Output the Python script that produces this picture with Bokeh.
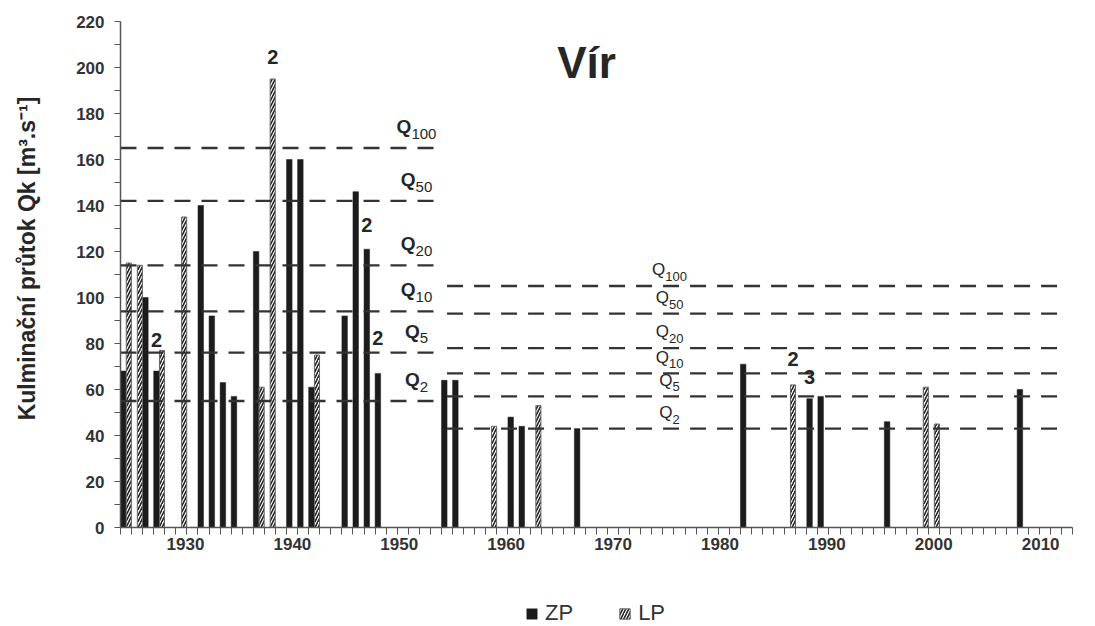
from bokeh.plotting import figure
from bokeh.layouts import column
from bokeh.models import (FixedTicker, Legend, LegendItem, Range1d, ColumnDataSource, Label, LinearAxis)
from bokeh.transform import dodge
from bokeh.core.properties import value
from bokeh.embed import file_html
from bokeh.resources import INLINE

# ---------------- data ----------------
zp_years = [1925, 1927, 1928, 1932, 1933, 1934, 1935, 1937, 1940, 1941, 1942, 1945, 1946, 1947, 1948,
            1954, 1955, 1960, 1961, 1966, 1981, 1987, 1988, 1994, 2006]
zp_values = [68, 100, 68, 140, 92, 63, 57, 120, 160, 160, 61, 92, 146, 121, 67,
             64, 64, 48, 44, 43, 71, 56, 57, 46, 60]
lp_years = [1925, 1926, 1928, 1930, 1937, 1938, 1942, 1958, 1962, 1985, 1997, 1998]
lp_values = [115, 114, 77, 135, 61, 195, 75, 44, 53, 62, 61, 45]

q_names = ["100", "50", "20", "10", "5", "2"]
q_before = [165, 142, 114, 94, 76, 55]     # period 1
q_after = [105, 93, 78, 67, 57, 43]        # period 2
period_start = [1924.5, 1954.0]
period_end = [1953.0, 2010.0]

ann_years = [1928, 1938, 1947, 1948, 1985, 1987]
ann_series = ["ZP", "LP", "ZP", "ZP", "LP", "ZP"]
ann_text = ["2", "2", "2", "2", "2", "3"]
ann_level = [78, 201, 128, 79, 70, 62]

x_labels = list(range(1930, 2011, 10))
first_year, last_year = 1925, 2010
# the printed year scale of the original is slightly compressed w.r.t. the bar slots
LABEL_AXIS_START, LABEL_AXIS_END = 1923.92, 2012.98

FONT = "Liberation Sans"
INK = "#262626"
BASE = 0.39   # drop of the alphabetic baseline below the anchor, in em

p = figure(width=1087, height=575, output_backend="svg", toolbar_location=None,
           x_range=Range1d(first_year - 0.5, last_year + 0.5), y_range=Range1d(0, 220),
           min_border_left=120, min_border_right=15, min_border_top=21, min_border_bottom=48)
p.extra_x_ranges = {"lab": Range1d(LABEL_AXIS_START, LABEL_AXIS_END)}
p.outline_line_color = None
p.grid.visible = False
p.background_fill_color = "white"

# bars
zp_src = ColumnDataSource(dict(year=zp_years, value=zp_values))
lp_src = ColumnDataSource(dict(year=lp_years, value=lp_values))
ZP_STYLE = dict(fill_color="#1c1c1c", line_color="#1c1c1c", line_width=0.5)
LP_STYLE = dict(fill_color="white", hatch_pattern="/", hatch_color="#222222", hatch_scale=6,
                hatch_weight=1.6, line_color="#666666", line_width=1)
p.vbar(x=dodge("year", -0.25), top="value", width=0.5, source=zp_src, **ZP_STYLE)
p.vbar(x=dodge("year", 0.25), top="value", width=0.46, source=lp_src, **LP_STYLE)

# dashed Q lines
seg = dict(x0=[], x1=[], y=[])
for i, qs in enumerate([q_before, q_after]):
    for q in qs:
        seg["x0"].append(period_start[i]); seg["x1"].append(period_end[i]); seg["y"].append(q)
p.segment(x0="x0", y0="y", x1="x1", y1="y", source=ColumnDataSource(seg),
          line_color="#333333", line_width=2.3, line_dash="16 11")

# Q labels (Q + subscript)
def q_labels(xc, levels, q_size, sub_size, bold, q_rise, sub_rise):
    wq = 0.778 * q_size
    xs, ys, qoff = [], [], []
    for lev, name in zip(levels, q_names):
        ws = 0.556 * sub_size * len(name)
        xs.append(xc); ys.append(lev)
        qoff.append((wq - ws) / 2)
    src = ColumnDataSource(dict(x=xs, y=ys, off=qoff, sub=q_names, q=["Q"] * len(xs)))
    p.text(x="x", y="y", text="q", x_offset="off", y_offset=-(q_rise + BASE * q_size), source=src,
           text_align="right", text_baseline="alphabetic", text_font=value(FONT),
           text_font_size=f"{q_size}px", text_font_style="bold" if bold else "normal", text_color=INK)
    p.text(x="x", y="y", text="sub", x_offset="off", y_offset=-(sub_rise + BASE * sub_size), source=src,
           text_align="left", text_baseline="alphabetic", text_font=value(FONT),
           text_font_size=f"{sub_size}px", text_color=INK)

q_labels(1951.24, q_before, 19, 15, True, 14, 8.5)
q_labels(1974.1, q_after, 17, 13, False, 9.5, 4.5)

# number-of-floods annotations
ax = [y - 0.25 if s == "ZP" else y + 0.25 for y, s in zip(ann_years, ann_series)]
p.text(x=ax, y=ann_level, text=ann_text, text_align="center", text_baseline="alphabetic",
       y_offset=-BASE * 20, text_font=value(FONT), text_font_size="20px", text_font_style="bold",
       text_color=INK)

# title inside plot
p.add_layout(Label(x=1966.6, y=202, text="Vír", text_align="center", text_baseline="alphabetic",
                   text_font=FONT, text_font_size="44px", text_font_style="bold", text_color=INK))

# y axis
ya = p.yaxis[0]
ya.ticker = FixedTicker(ticks=list(range(0, 221, 20)), minor_ticks=list(range(10, 220, 20)))
ya.major_tick_out = 6; ya.major_tick_in = 0; ya.minor_tick_out = 6; ya.minor_tick_in = 0
ya.axis_line_color = "#555555"; ya.axis_line_width = 1.5
ya.major_tick_line_color = "#555555"; ya.minor_tick_line_color = "#555555"
ya.major_label_text_font = FONT; ya.major_label_text_font_size = "17px"
ya.major_label_text_font_style = "bold"; ya.major_label_text_color = "#333333"
ya.major_label_standoff = 10
ya.axis_label = "\u00a0" * 5 + "Kulminační průtok Qk [m³.s⁻¹]"
ya.axis_label_text_font = FONT; ya.axis_label_text_font_size = "23px"
ya.axis_label_text_font_style = "bold"; ya.axis_label_text_color = "#262626"
ya.axis_label_standoff = 33

# x axis: one tick per year slot
xa = p.xaxis[0]
xa.ticker = FixedTicker(ticks=[], minor_ticks=[first_year - 0.5 + i for i in range(last_year - first_year + 2)])
xa.major_tick_out = 0; xa.major_tick_in = 0; xa.minor_tick_out = 7; xa.minor_tick_in = 0
xa.axis_line_color = "#555555"; xa.axis_line_width = 1.5
xa.minor_tick_line_color = "#555555"
xa.major_label_standoff = 0

# printed decade labels
la = LinearAxis(x_range_name="lab", ticker=FixedTicker(ticks=x_labels))
la.axis_line_color = None; la.major_tick_line_color = None; la.minor_tick_line_color = None
la.major_tick_out = 0; la.minor_tick_out = 0
la.major_label_text_font = FONT; la.major_label_text_font_size = "17px"
la.major_label_text_font_style = "bold"; la.major_label_text_color = "#333333"
la.major_label_standoff = 3
p.add_layout(la, "below")

# legend (separate strip under the chart; its bars lie below its visible y range)
lg = figure(width=1087, height=51, output_backend="svg", toolbar_location=None,
            x_range=Range1d(first_year - 0.5, last_year + 0.5), y_range=Range1d(300, 301),
            min_border_left=0, min_border_right=0, min_border_top=0, min_border_bottom=0)
lg.axis.visible = False
lg.grid.visible = False
lg.outline_line_color = None
e_zp = lg.vbar(x="year", top="value", width=0.5, source=zp_src, **ZP_STYLE)
e_lp = lg.vbar(x="year", top="value", width=0.5, source=lp_src, **LP_STYLE)
legend = Legend(items=[LegendItem(label="ZP", renderers=[e_zp]), LegendItem(label="LP", renderers=[e_lp])],
                orientation="horizontal", location=(405, 0), glyph_width=13, glyph_height=13,
                label_text_font=FONT, label_text_font_size="22px", label_text_color="#333333",
                spacing=45, label_standoff=7, border_line_color=None, background_fill_alpha=0,
                margin=0, padding=0)
lg.add_layout(legend, "center")

open("out.html", "w").write(file_html(column(p, lg), INLINE))
